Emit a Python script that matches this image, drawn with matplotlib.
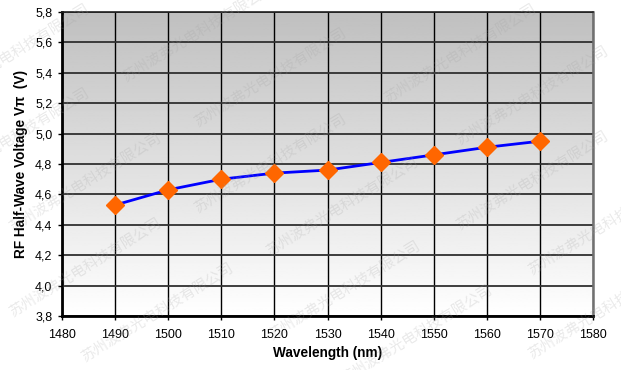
import numpy as np
import matplotlib
matplotlib.use("Agg")
import matplotlib.pyplot as plt
from matplotlib.ticker import FuncFormatter, MultipleLocator

plt.rcParams['font.family'] = ['Liberation Sans', 'DejaVu Sans']

# data
wavelength = [1490, 1500, 1510, 1520, 1530, 1540, 1550, 1560, 1570]
v_pi = [4.53, 4.63, 4.70, 4.74, 4.76, 4.81, 4.86, 4.91, 4.95]

x_ticks = list(range(1480, 1590, 10))
y_ticks = [3.8, 4.0, 4.2, 4.4, 4.6, 4.8, 5.0, 5.2, 5.4, 5.6, 5.8]

watermark = "苏州波弗光电科技有限公司"
# lower-left start of each watermark, in image pixels
wm_starts = [(-60, 103), (-60, 187), (12, 232), (12, 317), (84, 362),
             (125, 82), (197, 127), (197, 213), (269, 256), (271, 340), (343, 384),
             (387, 103), (459, 145), (459, 230), (531, 275), (531, 359)]

W, H = 621, 370
fig = plt.figure(figsize=(W / 100, H / 100), dpi=100)
ax = fig.add_axes([62 / W, 1 - 316 / H, 531 / W, 304 / H])

# gray (top) to white (bottom) gradient background
grad = np.linspace(0.75, 1.0, 256).reshape(-1, 1)
ax.imshow(grad, cmap='gray', vmin=0, vmax=1, aspect='auto', origin='upper',
          extent=[x_ticks[0], x_ticks[-1], y_ticks[0], y_ticks[-1]], zorder=0)

ax.set_xlim(x_ticks[0], x_ticks[-1])
ax.set_ylim(y_ticks[0], y_ticks[-1])
ax.xaxis.set_major_locator(MultipleLocator(10))
ax.yaxis.set_major_locator(MultipleLocator(0.2))
ax.yaxis.set_major_formatter(FuncFormatter(lambda v, p: f"{v:.1f}".replace('.', ',')))

ax.grid(axis='x', color='black', lw=1.0, zorder=1)
ax.grid(axis='y', color='#303030', lw=1.3, zorder=1)

ax.plot(wavelength, v_pi, color='#0000ff', lw=2, zorder=3)
ax.plot(wavelength, v_pi, ls='none', marker='D', ms=9.5, color='#ff6600',
        markeredgecolor='#ff6600', zorder=4)

for side in ['left', 'bottom']:
    ax.spines[side].set_linewidth(2)
    ax.spines[side].set_color('black')
ax.spines['top'].set_linewidth(1.2)
ax.spines['top'].set_color('#202020')
ax.spines['right'].set_linewidth(1.8)
ax.spines['right'].set_color('#707070')

ax.tick_params(axis='both', direction='out', length=3, width=1, labelsize=9, pad=4)
ax.tick_params(axis='x', pad=6)

ax.set_xlabel("Wavelength (nm)", fontsize=9.8, fontweight='bold', labelpad=4)
ax.set_ylabel("RF Half-Wave Voltage Vπ  (V)", fontsize=9.8, fontweight='bold', labelpad=5)

for sx, sy in wm_starts:
    fig.text(sx / W, 1 - sy / H, watermark, fontsize=10.5, rotation=31.5,
             rotation_mode='anchor', ha='left', va='baseline', color='#a0a0a0',
             alpha=0.22, family=['Noto Sans CJK SC', 'DejaVu Sans'], zorder=10)

fig.savefig("out.png", dpi=100)
